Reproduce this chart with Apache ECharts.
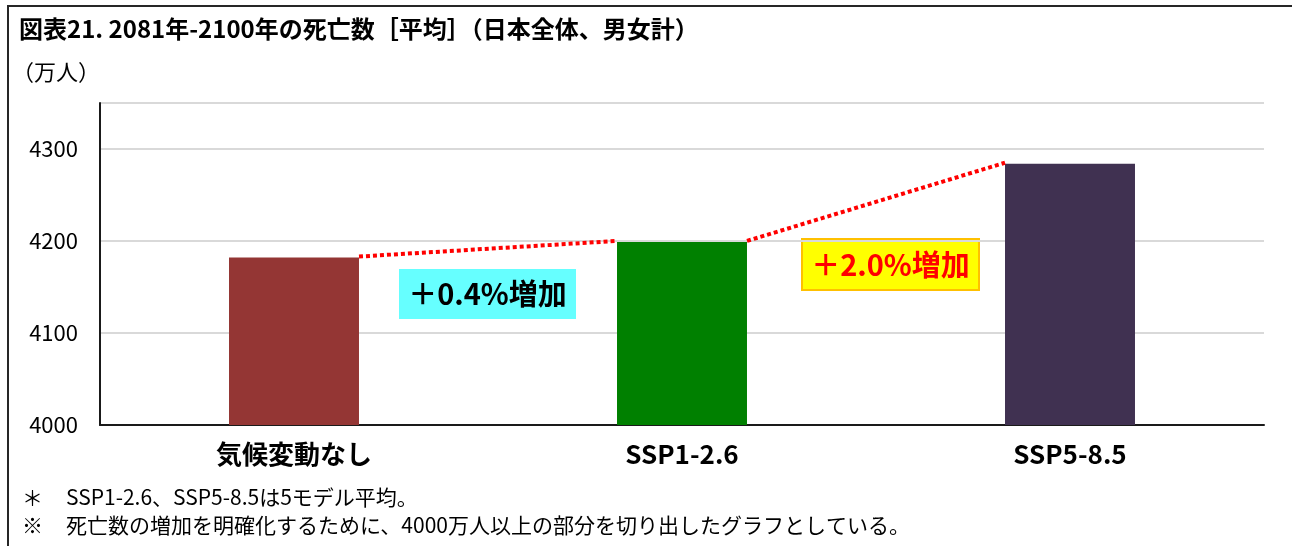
<!DOCTYPE html>
<html lang="ja">
<head>
<meta charset="utf-8">
<title>図表21. 2081年-2100年の死亡数</title>
<script src="https://cdn.jsdelivr.net/npm/echarts@6/dist/echarts.min.js"></script>
<style>
  html, body { margin: 0; padding: 0; background: #ffffff; }
  #chart { width: 1292px; height: 546px; }
</style>
</head>
<body>
<div id="chart"></div>
<script>
// Scenario names on the x axis
const categories = ['気候変動なし', 'SSP1-2.6', 'SSP5-8.5'];
// Average annual deaths 2081-2100 (万人)
const deaths = [4182, 4199, 4284];
// Bar fill per scenario
const barColors = ['#943634', '#008000', '#403151'];
// Value axis ticks
const yTicks = [4000, 4100, 4200, 4300];

const FONT = '"Noto Sans CJK JP", "Noto Sans", sans-serif';
const BAR_RATIO = 0.335;

// Percent change between neighbouring scenarios, shown in the callouts
function pctLabel(a, b) {
  return '＋' + ((b / a - 1) * 100).toFixed(1) + '%増加';
}

// Connector segments: [left bar index, left value, right value]
const links = [];
for (let i = 0; i < deaths.length - 1; i++) {
  links.push([i, deaths[i], deaths[i + 1]]);
}

const chart = echarts.init(document.getElementById('chart'), null, { renderer: 'canvas' });

chart.setOption({
  backgroundColor: '#ffffff',
  animation: false,
  textStyle: { fontFamily: FONT },
  title: {
    text: '図表21. 2081年-2100年の死亡数［平均］（日本全体、男女計）',
    left: 14,
    top: 12,
    textStyle: { fontFamily: FONT, fontSize: 24, fontWeight: 'bold', color: '#000000' }
  },
  grid: { left: 100, right: 28, top: 103, bottom: 121 },
  xAxis: {
    type: 'category',
    data: categories,
    axisLine: { lineStyle: { color: '#1a1a1a', width: 2 } },
    axisTick: { show: false },
    axisLabel: {
      color: '#000000',
      fontFamily: FONT,
      fontSize: 26,
      fontWeight: 'bold',
      margin: 16
    }
  },
  yAxis: {
    type: 'value',
    min: yTicks[0],
    max: 4350,
    interval: yTicks[1] - yTicks[0],
    axisLine: { show: true, lineStyle: { color: '#1a1a1a', width: 2 } },
    axisTick: { show: false },
    splitLine: { lineStyle: { color: '#d9d9d9', width: 2 } },
    axisLabel: {
      color: '#000000',
      fontFamily: FONT,
      fontSize: 22,
      margin: 22,
      formatter: v => (v <= yTicks[yTicks.length - 1] ? String(v) : '')
    }
  },
  series: [
    {
      type: 'bar',
      barWidth: (BAR_RATIO * 100) + '%',
      data: deaths.map((v, i) => ({ value: v, itemStyle: { color: barColors[i] } })),
      z: 2
    },
    {
      // red dotted connectors from each bar's top-right corner to the next bar's top-left corner
      type: 'custom',
      data: links,
      encode: { x: 0, y: [1, 2] },
      z: 3,
      renderItem: function (params, api) {
        const i = api.value(0);
        const a = api.coord([i, api.value(1)]);
        const b = api.coord([i + 1, api.value(2)]);
        const half = api.size([1, 0])[0] * BAR_RATIO / 2;
        return {
          type: 'line',
          shape: { x1: a[0] + half, y1: a[1] - 1, x2: b[0] - half, y2: b[1] - 1 },
          style: { stroke: '#ff0000', lineWidth: 4, lineDash: [4, 3], fill: null }
        };
      }
    }
  ],
  graphic: [
    // frame lines along the top and left
    { type: 'line', shape: { x1: 7, y1: 6, x2: 1292, y2: 6 }, style: { stroke: '#262626', lineWidth: 2 } },
    { type: 'line', shape: { x1: 8, y1: 6, x2: 8, y2: 546 }, style: { stroke: '#262626', lineWidth: 2 } },
    // unit
    { type: 'text', left: 12, top: 61, style: { text: '（万人）', fontFamily: FONT, fontSize: 22, fill: '#000000' } },
    // callout: no change -> SSP1-2.6
    { type: 'rect', shape: { x: 399, y: 269, width: 177, height: 50 }, style: { fill: '#66ffff' } },
    {
      type: 'text', x: 487.5, y: 294,
      style: { text: pctLabel(deaths[0], deaths[1]), fontFamily: FONT, fontSize: 29, fontWeight: 'bold',
               fill: '#000000', align: 'center', verticalAlign: 'middle' }
    },
    // callout: SSP1-2.6 -> SSP5-8.5
    { type: 'rect', shape: { x: 802, y: 239, width: 177, height: 51 }, style: { fill: '#ffff00', stroke: '#ffc000', lineWidth: 2 } },
    {
      type: 'text', x: 890.5, y: 265,
      style: { text: pctLabel(deaths[1], deaths[2]), fontFamily: FONT, fontSize: 29, fontWeight: 'bold',
               fill: '#ff0000', align: 'center', verticalAlign: 'middle' }
    },
    // notes
    { type: 'text', left: 22, top: 488, style: { text: '＊', fontFamily: FONT, fontSize: 21, fill: '#000000' } },
    { type: 'text', left: 66, top: 487, style: { text: 'SSP1-2.6、SSP5-8.5は5モデル平均。', fontFamily: FONT, fontSize: 21, fill: '#000000' } },
    { type: 'text', left: 22, top: 515, style: { text: '※', fontFamily: FONT, fontSize: 21, fill: '#000000' } },
    { type: 'text', left: 66, top: 515, style: { text: '死亡数の増加を明確化するために、4000万人以上の部分を切り出したグラフとしている。', fontFamily: FONT, fontSize: 21, fill: '#000000' } }
  ]
});
</script>
</body>
</html>
